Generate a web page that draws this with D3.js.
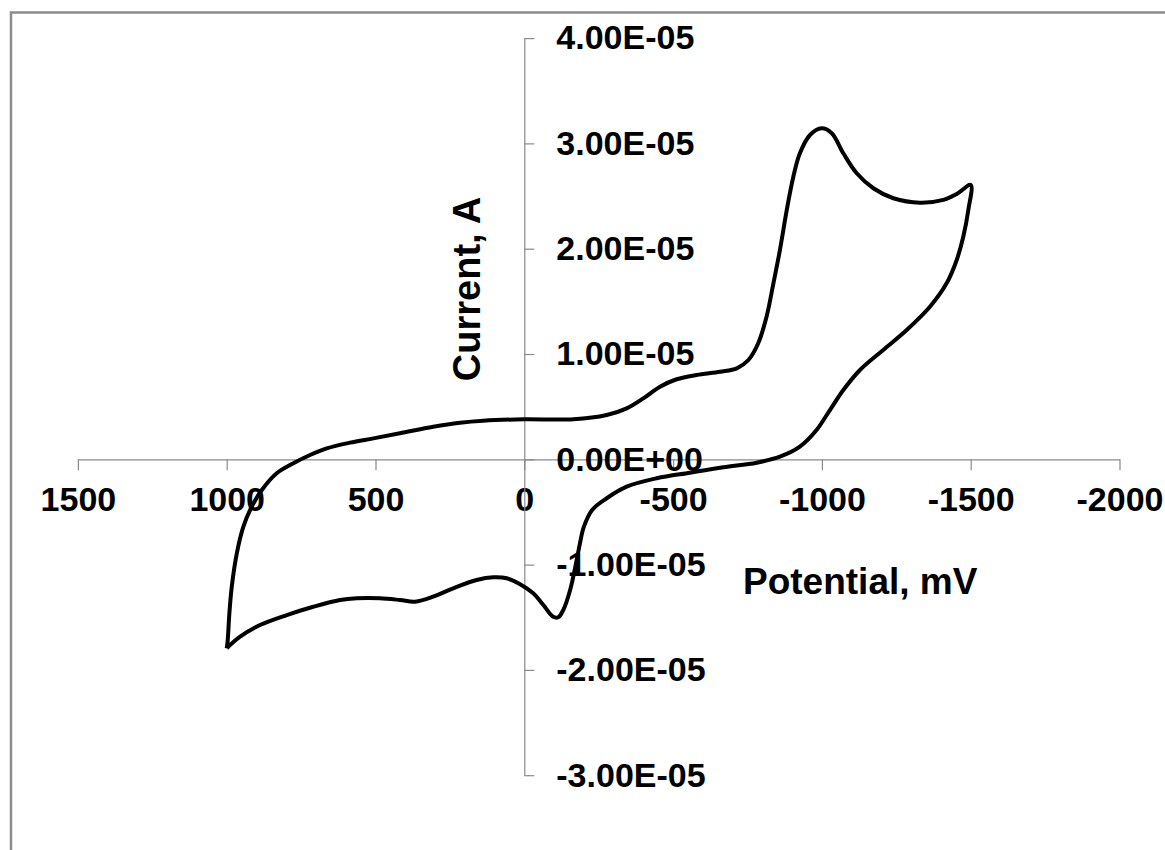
<!DOCTYPE html>
<html>
<head>
<meta charset="utf-8">
<script src="https://cdn.jsdelivr.net/npm/d3@7"></script>
<style>
  body { margin: 0; background: #fff; }
  svg { display: block; }
  .lbl { font-family: "Liberation Sans", Arial, sans-serif; font-weight: bold; fill: #000; }
</style>
</head>
<body>
<svg id="graph" width="1165" height="850"></svg>
<script>
/*************************************************/
// Data (potential in mV, current in A)

// forward scan: +1000 mV -> -1500 mV
var fwdPotential = [1000, 997, 991, 983, 966, 944, 916, 882, 832, 776, 720, 664, 586, 507, 418, 306, 216, 138, 0,
  -165, -277, -344, -400, -456, -512, -579, -658, -714, -753, -786, -814, -837, -859, -882, -904, -926, -960,
  -999, -1033, -1072, -1117, -1173, -1240, -1330, -1408, -1453, -1500];
var fwdCurrent = [-1.795e-5, -1.732e-5, -1.463e-5, -1.210e-5, -0.893e-5, -0.640e-5, -0.450e-5, -0.292e-5, -0.133e-5,
  -0.038e-5, 0.041e-5, 0.104e-5, 0.158e-5, 0.199e-5, 0.247e-5, 0.310e-5, 0.348e-5, 0.367e-5, 0.380e-5,
  0.380e-5, 0.421e-5, 0.484e-5, 0.579e-5, 0.689e-5, 0.760e-5, 0.801e-5, 0.832e-5, 0.864e-5, 0.943e-5,
  1.102e-5, 1.354e-5, 1.671e-5, 1.988e-5, 2.368e-5, 2.684e-5, 2.906e-5, 3.080e-5,
  3.143e-5, 3.096e-5, 2.906e-5, 2.716e-5, 2.574e-5, 2.479e-5, 2.437e-5, 2.463e-5, 2.520e-5, 2.605e-5];

// reverse scan: -1500 mV -> +1000 mV
var revPotential = [-1492, -1475, -1453, -1419, -1363, -1285, -1206, -1128, -1072, -1027, -982, -926, -859, -781,
  -669, -557, -445, -344, -277, -228, -200, -187, -176, -154, -131, -114, -97, -64, -30, 14, 59, 104, 160, 239,
  306, 367, 418, 485, 563, 619, 709, 798, 888, 955, 1000];
var revCurrent = [2.368e-5, 2.114e-5, 1.893e-5, 1.671e-5, 1.449e-5, 1.228e-5, 1.038e-5, 0.848e-5, 0.658e-5, 0.468e-5,
  0.278e-5, 0.120e-5, 0.025e-5, -0.032e-5, -0.076e-5, -0.127e-5, -0.180e-5, -0.260e-5, -0.370e-5, -0.481e-5,
  -0.642e-5, -0.798e-5, -0.956e-5, -1.241e-5, -1.431e-5, -1.500e-5, -1.495e-5, -1.384e-5, -1.273e-5, -1.187e-5,
  -1.130e-5, -1.121e-5, -1.146e-5, -1.225e-5, -1.305e-5, -1.352e-5, -1.336e-5, -1.320e-5, -1.320e-5, -1.336e-5,
  -1.400e-5, -1.479e-5, -1.574e-5, -1.685e-5, -1.795e-5];

var xTicks = [1500, 1000, 500, 0, -500, -1000, -1500, -2000];
var yTicks = [-3e-5, -2e-5, -1e-5, 0, 1e-5, 2e-5, 3e-5, 4e-5];
var yTickLabels = ['-3.00E-05', '-2.00E-05', '-1.00E-05', '0.00E+00', '1.00E-05', '2.00E-05', '3.00E-05', '4.00E-05'];

/*************************************************/

var svg = d3.select('#graph');

// chart area frame (only top and left edges visible)
svg.append('path').attr('d', 'M11,850 V12.5 H1165')
   .style('fill', 'none').style('stroke', '#8c8c8c').style('stroke-width', 2.5);

var xScale = d3.scaleLinear().domain([1500, -2000]).range([77.9, 1119.5]);
var yScale = d3.scaleLinear().domain([-3e-5, 4e-5]).range([775.2, 38.1]);

var xAxis = svg.append('g').attr('transform', 'translate(0,' + yScale(0) + ')')
  .call(d3.axisBottom(xScale).tickValues(xTicks).tickFormat(d3.format('d')).tickSizeInner(11).tickSizeOuter(0).tickPadding(17));

var yAxis = svg.append('g').attr('transform', 'translate(' + xScale(0) + ',0)')
  .call(d3.axisRight(yScale).tickValues(yTicks).tickFormat(function(d, i){ return yTickLabels[i]; })
        .tickSizeInner(10).tickSizeOuter(0).tickPadding(22));

svg.selectAll('.domain, .tick line').style('stroke', '#8a8a8a').style('stroke-width', 1.2);
svg.selectAll('.tick text').attr('class', 'lbl').style('font-size', '34px');
xAxis.selectAll('.tick text').text(function(d){ return d3.format('d')(d).replace('\u2212', '-'); });

// axis titles
svg.append('text').attr('class', 'lbl').attr('x', 743).attr('y', 594).style('font-size', '37px').text('Potential, mV');
svg.append('text').attr('class', 'lbl')
   .attr('transform', 'translate(480,289) rotate(-90)').style('text-anchor', 'middle').style('font-size', '38px')
   .text('Current, A');

// voltammogram
var pts = fwdPotential.map(function(e, i){ return { x: xScale(e), y: yScale(fwdCurrent[i]) }; })
  .concat(revPotential.map(function(e, i){ return { x: xScale(e), y: yScale(revCurrent[i]) }; }));

var lineGen = d3.line().x(function(d){ return d.x }).y(function(d){ return d.y }).curve(d3.curveCatmullRom.alpha(0.5));

svg.append('path').attr('d', lineGen(pts))
   .style('fill', 'none').style('stroke', '#000').style('stroke-width', 4).style('stroke-linejoin', 'miter');
</script>
</body>
</html>
